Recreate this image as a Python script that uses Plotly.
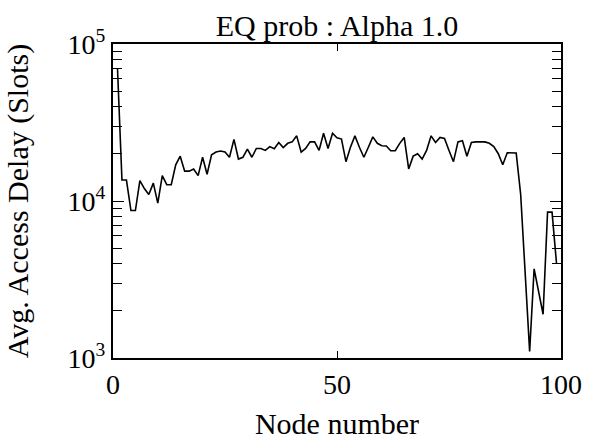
import plotly.graph_objects as go

# Average access delay per node (slots)
nodes = list(range(1, 100))
delay = [
    70000, 13600, 13600, 8700, 8700, 13500, 12000, 11000, 13000, 9700,
    14500, 12700, 12700, 17000, 19300, 15500, 15500, 16000, 14500, 19000,
    14800, 19700, 20500, 20800, 20500, 19000, 24700, 18500, 19000, 21400,
    19000, 21600, 21600, 21000, 22200, 21500, 23600, 21900, 23300, 23800,
    26000, 20500, 21600, 23800, 23800, 21000, 27000, 21600, 27000, 25300,
    24800, 17800, 22000, 26000, 22000, 19000, 22000, 25600, 23300, 22500,
    22400, 20900, 20900, 23300, 25400, 16000, 19300, 20000, 18500, 21000,
    26000, 23600, 25400, 25000, 21000, 17800, 23800, 24200, 19300, 23600,
    23800, 23800, 23800, 23300, 22200, 20000, 17000, 20300, 20200, 20200,
    11000, 3600, 1100, 3700, 2700, 1900, 8500, 8500, 4000,
]

x_ticks = [0, 50, 100]
y_major = [1e3, 1e4, 1e5]
y_major_text = ["10<sup>3</sup>", "10<sup>4</sup>", "10<sup>5</sup>"]
y_minor = [m * d for d in (1e3, 1e4) for m in range(2, 10)]

serif = "Liberation Serif"

fig = go.Figure(
    go.Scatter(
        x=nodes, y=delay, mode="lines",
        line=dict(color="black", width=1.6),
        showlegend=False,
    )
)

fig.update_layout(
    width=598, height=447,
    margin=dict(l=113, r=37, t=44, b=84),
    paper_bgcolor="white", plot_bgcolor="white",
    font=dict(family=serif, size=28, color="black"),
    title=dict(
        text="EQ prob : Alpha 1.0",
        x=0.5635, xanchor="center",
        y=1 - 25 / 447, yanchor="middle",
        font=dict(family=serif, size=30, color="black"),
    ),
)

fig.update_xaxes(
    range=[0, 100],
    tickmode="array", tickvals=x_ticks,
    ticks="inside", ticklen=7, tickwidth=1.2, tickcolor="black",
    showline=True, linecolor="black", linewidth=2, mirror="ticks",
    showgrid=False, zeroline=False,
    tickfont=dict(family=serif, size=28),
    title=dict(text="Node number", font=dict(family=serif, size=30), standoff=14),
)

fig.update_yaxes(
    type="log", range=[3, 5],
    tickmode="array", tickvals=y_major, ticktext=y_major_text,
    ticks="inside", ticklen=11, tickwidth=1.2, tickcolor="black",
    minor=dict(tickmode="array", tickvals=y_minor, ticks="inside",
               ticklen=9, tickwidth=1.2, tickcolor="black", showgrid=False),
    showline=True, linecolor="black", linewidth=2, mirror="ticks",
    showgrid=False, zeroline=False,
    tickfont=dict(family=serif, size=28),
    title=dict(text="Avg. Access Delay (Slots)", font=dict(family=serif, size=30),
               standoff=30),
)

fig.write_html("out.html")
